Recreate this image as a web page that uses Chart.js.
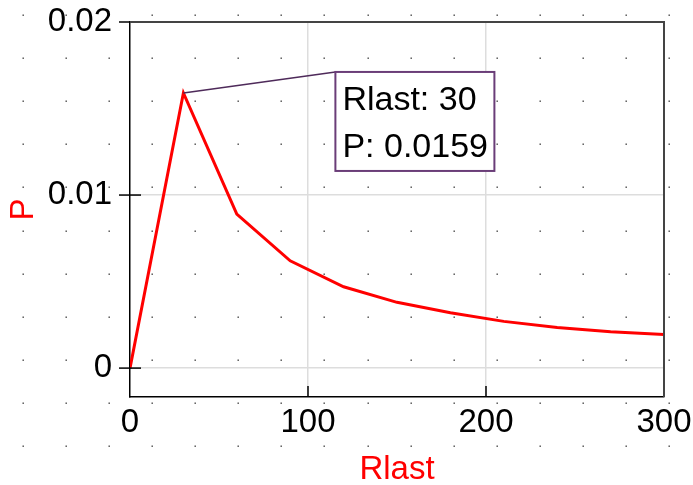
<!DOCTYPE html>
<html lang="en">
<head>
    <meta charset="UTF-8">
    <title>P vs Rlast</title>
    <script src="https://cdn.jsdelivr.net/npm/chart.js"></script>
    <style>
        html, body {
            margin: 0;
            padding: 0;
            background: #ffffff;
        }
        #wrap {
            width: 693px;
            height: 485px;
        }
    </style>
</head>
<body>
<div id="wrap"><canvas id="grafico" width="693" height="485"></canvas></div>
<script>
    // Data
    const rlast = [0, 30, 60, 90, 120, 150, 180, 210, 240, 270, 300];
    const pValues = [0, 0.0159, 0.0089, 0.0062, 0.0047, 0.0038, 0.0032, 0.0027, 0.00235, 0.0021, 0.00194];
    const xTicks = [0, 100, 200, 300];
    const xTickLabels = ['0', '100', '200', '300'];
    const yTicks = [0, 0.01, 0.02];
    const yTickLabels = ['0', '0.01', '0.02'];
    const markedIndex = 1; // point with the callout

    const FONT = '"Liberation Sans", Arial, Helvetica, sans-serif';

    // dotted background pattern
    const dotsPlugin = {
        id: 'dots',
        beforeDraw(chart) {
            const ctx = chart.ctx;
            ctx.save();
            ctx.fillStyle = '#ffffff';
            ctx.fillRect(0, 0, chart.width, chart.height);
            ctx.fillStyle = '#444444';
            for (let x = 22.7; x < chart.width; x += 43.1) {
                for (let y = 15; y < chart.height; y += 43.1) {
                    ctx.fillRect(Math.round(x) - 0.5, Math.round(y) - 0.5, 1.4, 1.4);
                }
            }
            ctx.restore();
        }
    };

    // frame, tick marks and the callout box
    const framePlugin = {
        id: 'frame',
        afterDraw(chart) {
            const ctx = chart.ctx;
            const a = chart.chartArea;
            const xs = chart.scales.x;
            const ys = chart.scales.y;
            ctx.save();
            // top & right frame
            ctx.strokeStyle = '#444444';
            ctx.lineWidth = 2;
            ctx.beginPath();
            ctx.moveTo(a.left, a.top);
            ctx.lineTo(a.right, a.top);
            ctx.lineTo(a.right, a.bottom);
            ctx.stroke();
            // tick marks
            ctx.strokeStyle = '#000000';
            ctx.lineWidth = 1.5;
            yTicks.forEach(v => {
                const py = ys.getPixelForValue(v);
                ctx.beginPath();
                ctx.moveTo(a.left - 11, py);
                ctx.lineTo(a.left + (v === 0.02 ? 0 : 11), py);
                ctx.stroke();
            });
            xTicks.forEach(v => {
                if (v === 0 || v === 300) return;
                const px = xs.getPixelForValue(v);
                ctx.beginPath();
                ctx.moveTo(px, a.bottom);
                ctx.lineTo(px, a.bottom - 11);
                ctx.stroke();
            });

            // callout
            const px = xs.getPixelForValue(rlast[markedIndex]);
            const py = ys.getPixelForValue(pValues[markedIndex]);
            const bx = px + 152, by = py - 21, bw = 159, bh = 99;
            ctx.strokeStyle = '#4e2a5a';
            ctx.lineWidth = 1.5;
            ctx.beginPath();
            ctx.moveTo(px, py);
            ctx.lineTo(bx, by);
            ctx.stroke();
            ctx.fillStyle = '#ffffff';
            ctx.fillRect(bx, by, bw, bh);
            ctx.strokeStyle = '#6a3d78';
            ctx.lineWidth = 2;
            ctx.strokeRect(bx, by, bw, bh);
            ctx.fillStyle = '#000000';
            ctx.font = '34px ' + FONT;
            ctx.textAlign = 'left';
            ctx.textBaseline = 'alphabetic';
            ctx.fillText('Rlast: ' + rlast[markedIndex], bx + 7, by + 38);
            ctx.fillText('P: ' + pValues[markedIndex], bx + 7, by + 85);
            ctx.restore();
        }
    };

    new Chart(document.getElementById('grafico'), {
        type: 'line',
        data: {
            datasets: [{
                label: 'P',
                data: rlast.map((r, i) => ({ x: r, y: pValues[i] })),
                borderColor: '#ff0000',
                borderWidth: 3,
                pointRadius: 0,
                tension: 0,
                fill: false
            }]
        },
        options: {
            responsive: false,
            animation: false,
            devicePixelRatio: 1,
            layout: { padding: { left: 0, top: 22, right: 29, bottom: 0 } },
            plugins: {
                legend: { display: false },
                tooltip: { enabled: false }
            },
            scales: {
                x: {
                    type: 'linear',
                    min: 0,
                    max: 300,
                    afterBuildTicks: s => { s.ticks = xTicks.map(v => ({ value: v })); },
                    afterFit: s => {
                        s.height = 88;
                        s.paddingLeft = 0;
                        s.paddingRight = 0;
                    },
                    ticks: {
                        autoSkip: false,
                        maxRotation: 0,
                        padding: 6,
                        color: '#000000',
                        font: { family: FONT, size: 33 },
                        callback: (v) => xTickLabels[xTicks.indexOf(v)]
                    },
                    grid: {
                        drawTicks: false,
                        lineWidth: 1.5,
                        color: c => (c.tick && (c.tick.value === 100 || c.tick.value === 200)) ? '#dddddd' : 'rgba(0,0,0,0)'
                    },
                    border: { color: '#000000', width: 1.5 },
                    title: {
                        display: true,
                        text: 'Rlast',
                        color: '#ff0000',
                        padding: { top: 0, bottom: -5 },
                        font: { family: FONT, size: 33 }
                    }
                },
                y: {
                    type: 'linear',
                    min: -0.00167,
                    max: 0.02,
                    afterBuildTicks: s => { s.ticks = yTicks.map(v => ({ value: v })); },
                    afterFit: s => {
                        s.width = 130;
                        s.paddingTop = 0;
                        s.paddingBottom = 0;
                    },
                    ticks: {
                        autoSkip: false,
                        padding: 18,
                        color: '#000000',
                        font: { family: FONT, size: 33 },
                        callback: (v) => yTickLabels[yTicks.indexOf(v)]
                    },
                    grid: {
                        drawTicks: false,
                        lineWidth: 1.5,
                        color: c => (c.tick && (c.tick.value === 0 || c.tick.value === 0.01)) ? '#dddddd' : 'rgba(0,0,0,0)'
                    },
                    border: { color: '#000000', width: 1.5 },
                    title: {
                        display: true,
                        text: 'P',
                        color: '#ff0000',
                        padding: { top: 4, bottom: 0 },
                        font: { family: FONT, size: 33 }
                    }
                }
            }
        },
        plugins: [dotsPlugin, framePlugin]
    });
</script>
</body>
</html>
